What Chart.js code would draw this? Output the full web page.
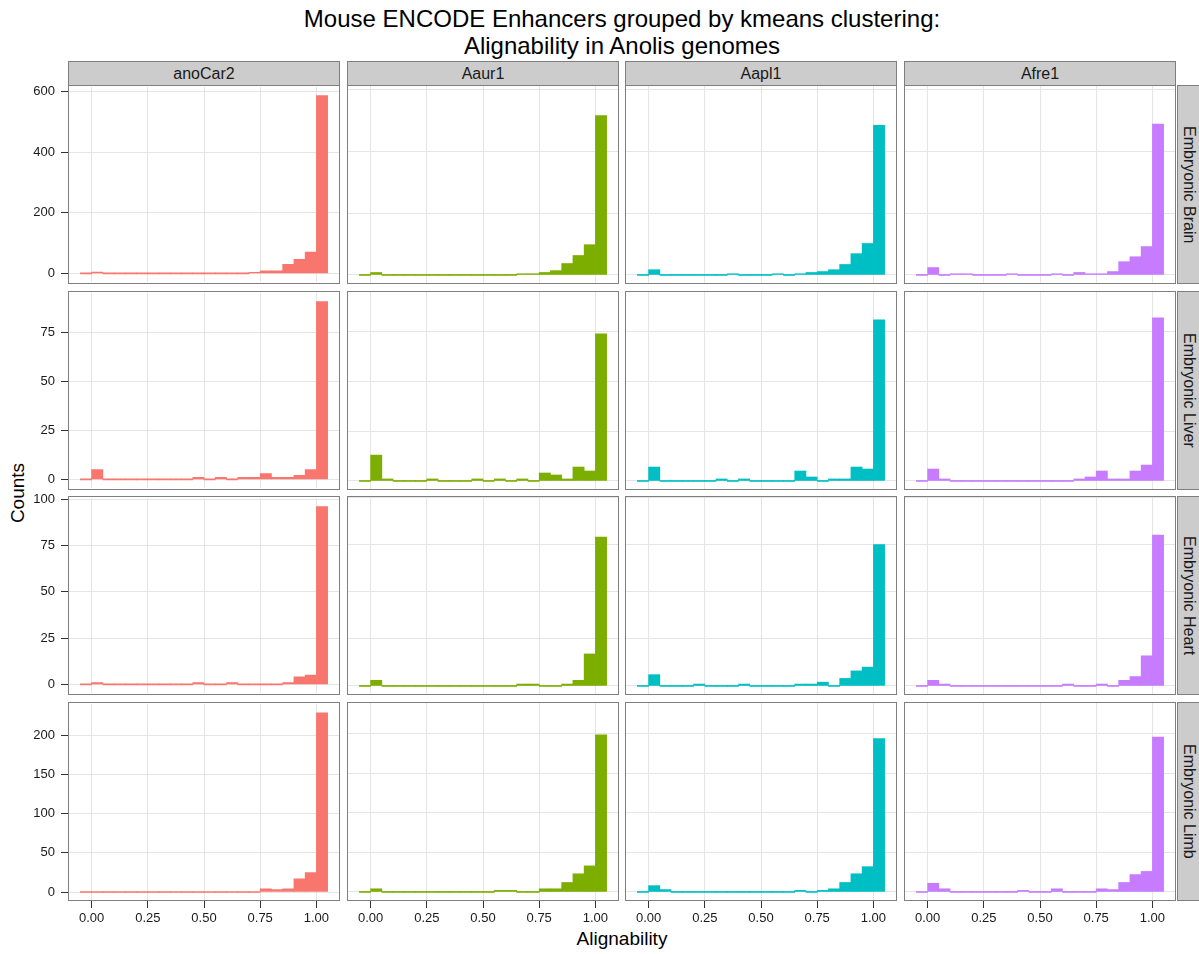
<!DOCTYPE html>
<html>
<head>
<meta charset="utf-8">
<script src="https://cdn.jsdelivr.net/npm/chart.js@4.4.1/dist/chart.umd.min.js"></script>
<style>
body { margin:0; background:#fff; font-family:'Liberation Sans', Arial, Helvetica, sans-serif; }
#wrap { position:relative; width:1199px; height:954px; overflow:hidden; background:#fff; }
canvas { position:absolute; }
.strip { position:absolute; background:#cccccc; border:1px solid #7f7f7f; box-sizing:border-box; color:#1a1a1a; font-size:16px; display:flex; align-items:center; justify-content:center; }
.vstrip { writing-mode:vertical-rl; }
.frame { position:absolute; border:1.5px solid #7f7f7f; box-sizing:border-box; pointer-events:none; }
.txt { position:absolute; color:#000; white-space:nowrap; }
</style>
</head>
<body>
<div id="wrap">
  <div class="txt" style="left:0;width:1244px;top:5px;text-align:center;font-size:24px;line-height:27px;">Mouse ENCODE Enhancers grouped by kmeans clustering:<br>Alignability in Anolis genomes</div>
  <div class="txt" style="left:0;width:1244px;top:928px;text-align:center;font-size:19px;">Alignability</div>
  <div class="txt" style="left:18px;top:493px;font-size:19px;transform:translate(-50%,-50%) rotate(-90deg);">Counts</div>
</div>
<script>
// histogram bins (width 0.05), centres
let binCenters = [-0.025, 0.025, 0.075, 0.125, 0.175, 0.225, 0.275, 0.325, 0.375, 0.425, 0.475,
                  0.525, 0.575, 0.625, 0.675, 0.725, 0.775, 0.825, 0.875, 0.925, 0.975, 1.025];
let genomes = ["anoCar2", "Aaur1", "Aapl1", "Afre1"];
let tissues = ["Embryonic Brain", "Embryonic Liver", "Embryonic Heart", "Embryonic Limb"];
let genomeColors = ["#F8766D", "#7CAE00", "#00BFC4", "#C77CFF"];
let xTicks = [0, 0.25, 0.5, 0.75, 1];

// counts per bin, one row per genome (anoCar2, Aaur1, Aapl1, Afre1)
let brainCounts = [
  [0,4,0,0,0,0,0,0,0,0,0,0,0,0,0,3,8,8,30,46,70,586],
  [0,8,0,0,0,0,0,0,0,0,0,0,0,0,4,4,8,14,37,63,98,516],
  [0,17,0,0,0,0,0,0,4,0,0,0,4,0,4,8,11,17,34,69,102,485],
  [0,24,0,4,4,0,0,0,4,0,0,0,4,0,8,4,4,11,43,59,92,489]
];
let liverCounts = [
  [0,5,0,0,0,0,0,0,0,0,1,0,1,0,1,1,3,1,1,2,5,91],
  [0,13,1,0,0,0,1,0,0,0,1,0,1,0,1,0,4,3,1,7,5,74],
  [0,7,0,0,0,0,0,1,0,1,0,0,0,0,5,2,0,1,1,7,6,81],
  [0,6,1,0,0,0,0,0,0,0,0,0,0,0,1,2,5,1,1,5,8,82]
];
let heartCounts = [
  [0,1,0,0,0,0,0,0,0,0,1,0,0,1,0,0,0,0,1,4,5,96],
  [0,3,0,0,0,0,0,0,0,0,0,0,0,0,1,1,0,0,1,3,17,79],
  [0,6,0,0,0,1,0,0,0,1,0,0,0,0,1,1,2,0,4,8,10,75],
  [0,3,1,0,0,0,0,0,0,0,0,0,0,1,0,0,1,0,3,5,16,80]
];
let limbCounts = [
  [0,0,0,0,0,0,0,0,0,0,0,0,0,0,0,0,4,3,4,17,25,229],
  [0,4,0,0,0,0,0,0,0,0,0,0,2,2,0,0,4,4,12,23,33,199],
  [0,8,3,0,0,0,0,0,0,0,0,0,0,0,2,0,2,4,12,23,32,194],
  [0,11,4,0,0,0,0,0,0,2,0,0,4,0,0,0,4,3,12,22,26,196]
];
let yTicksBrain = [0, 200, 400, 600];
let yTicksLiver = [0, 25, 50, 75];
let yTicksHeart = [0, 25, 50, 75, 100];
let yTicksLimb = [0, 50, 100, 150, 200];

let rowCounts = [brainCounts, liverCounts, heartCounts, limbCounts];
let rowTicks = [yTicksBrain, yTicksLiver, yTicksHeart, yTicksLimb];

// panel geometry
let colLeft = [68, 347, 625, 904];
let rowTop = [85, 291, 496, 702];
let panelW = 272, panelH = 199;
let M = 12;
let yAxisW = 68, xAxisH = 42;

Chart.defaults.font.family = "'Liberation Sans', Arial, Helvetica, sans-serif";
Chart.defaults.color = '#1a1a1a';

let wrap = document.getElementById('wrap');

for (let c = 0; c < genomes.length; c++) {
  let s = document.createElement('div');
  s.className = 'strip';
  s.style.left = colLeft[c] + 'px';
  s.style.top = '61px';
  s.style.width = panelW + 'px';
  s.style.height = '25px';
  s.textContent = genomes[c];
  wrap.appendChild(s);
}
for (let r = 0; r < tissues.length; r++) {
  let s = document.createElement('div');
  s.className = 'strip vstrip';
  s.style.left = '1177px';
  s.style.top = rowTop[r] + 'px';
  s.style.width = '24px';
  s.style.height = panelH + 'px';
  s.textContent = tissues[r];
  wrap.appendChild(s);
}

for (let r = 0; r < tissues.length; r++) {
  let counts = rowCounts[r];
  let rowMax = Math.max(...counts.flat());
  for (let c = 0; c < genomes.length; c++) {
    let leftExtra = c === 0 ? yAxisW : M;
    let bottomExtra = r === 3 ? xAxisH : M;
    let cv = document.createElement('canvas');
    let w = leftExtra + panelW + M, h = M + panelH + bottomExtra;
    cv.width = w; cv.height = h;
    cv.style.width = w + 'px'; cv.style.height = h + 'px';
    cv.style.left = (colLeft[c] - leftExtra) + 'px';
    cv.style.top = (rowTop[r] - M) + 'px';
    wrap.appendChild(cv);

    let yTicks = rowTicks[r];
    new Chart(cv.getContext('2d'), {
      type: 'bar',
      data: {
        datasets: [{
          data: binCenters.map((x, i) => ({ x: x, y: counts[c][i] })),
          backgroundColor: genomeColors[c],
          borderWidth: 0,
          barPercentage: 1,
          categoryPercentage: 1,
          minBarLength: 1
        }]
      },
      options: {
        responsive: false,
        animation: false,
        devicePixelRatio: 1,
        layout: { padding: { left: c === 0 ? 0 : M, top: M, right: M, bottom: r === 3 ? 0 : M } },
        plugins: { legend: { display: false }, tooltip: { enabled: false } },
        scales: {
          x: {
            type: 'linear',
            min: -0.105, max: 1.105,
            offset: false,
            afterBuildTicks: s => { s.ticks = xTicks.map(v => ({ value: v })); },
            afterFit: s => { s.height = r === 3 ? xAxisH : 0; },
            ticks: {
              display: r === 3,
              autoSkip: false, maxRotation: 0,
              padding: 3,
              font: { size: 13 },
              callback: v => Number(v).toFixed(2)
            },
            grid: { offset: false, color: '#e5e5e5', lineWidth: 1, drawTicks: r === 3, tickLength: 7, tickColor: '#333333' },
            border: { display: false }
          },
          y: {
            min: -0.05 * rowMax, max: 1.05 * rowMax,
            afterBuildTicks: s => { s.ticks = yTicks.map(v => ({ value: v })); },
            afterFit: s => { s.width = c === 0 ? yAxisW : 0; },
            ticks: { display: c === 0, padding: 6, font: { size: 13 } },
            grid: { color: '#e5e5e5', lineWidth: 1, drawTicks: c === 0, tickLength: 7, tickColor: '#333333' },
            border: { display: false }
          }
        }
      }
    });

    let f = document.createElement('div');
    f.className = 'frame';
    f.style.left = colLeft[c] + 'px';
    f.style.top = rowTop[r] + 'px';
    f.style.width = panelW + 'px';
    f.style.height = panelH + 'px';
    wrap.appendChild(f);
  }
}
</script>
</body>
</html>
